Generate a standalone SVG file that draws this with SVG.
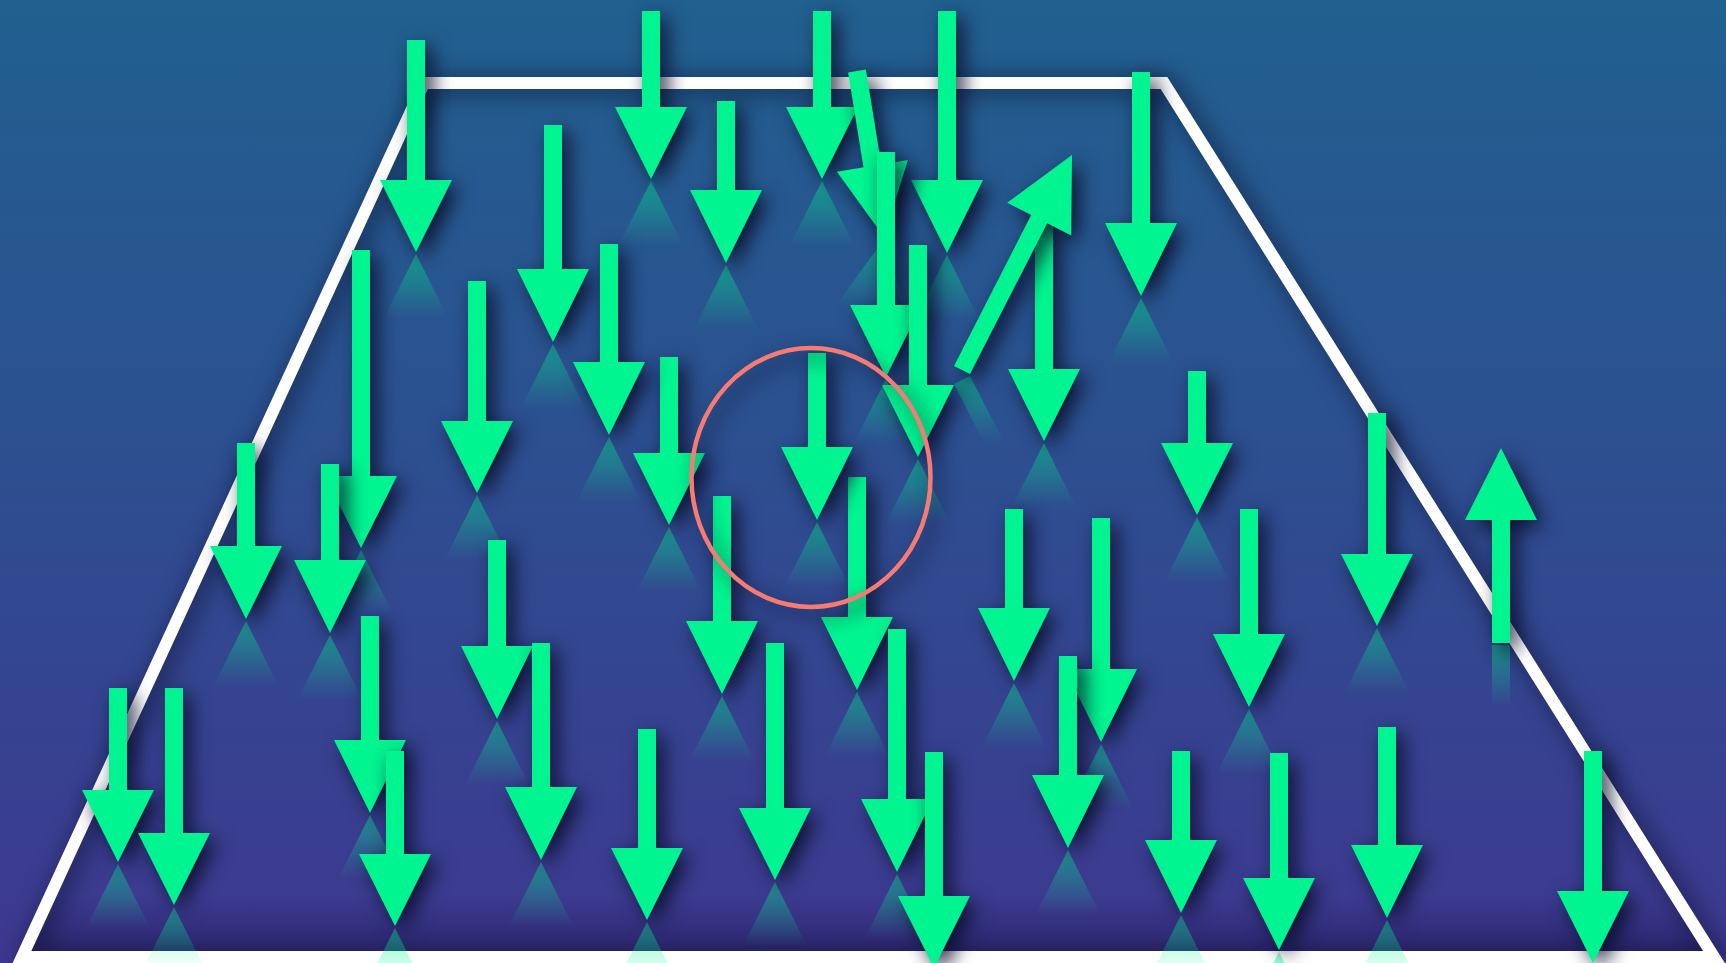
<svg xmlns="http://www.w3.org/2000/svg" width="1726" height="963" viewBox="0 0 1726 963">
<defs>
<linearGradient id="bg" x1="0" y1="0" x2="0" y2="1">
<stop offset="0" stop-color="#21608f"/>
<stop offset="0.45" stop-color="#2c5090"/>
<stop offset="1" stop-color="#3e3890"/>
</linearGradient>
<linearGradient id="refl" x1="0" y1="0" x2="0" y2="1">
<stop offset="0" stop-color="#00f590" stop-opacity="0.45"/>
<stop offset="0.9" stop-color="#00f590" stop-opacity="0"/>
</linearGradient>
<linearGradient id="bot" x1="0" y1="0" x2="0" y2="1">
<stop offset="0" stop-color="#1a144c" stop-opacity="0"/>
<stop offset="1" stop-color="#1a144c" stop-opacity="0.45"/>
</linearGradient>
<filter id="sh" x="-80%" y="-40%" width="260%" height="180%" color-interpolation-filters="sRGB">
<feDropShadow dx="7" dy="7" stdDeviation="10" flood-color="#080c28" flood-opacity="0.9"/>
</filter>
<filter id="shT" filterUnits="userSpaceOnUse" x="-60" y="-60" width="1850" height="1090" color-interpolation-filters="sRGB">
<feDropShadow dx="5" dy="3" stdDeviation="12" flood-color="#080c28" flood-opacity="0.8"/>
</filter>
</defs>
<style>
.a{fill:#00f590;filter:url(#sh)}
.r{fill:url(#refl)}
.frame{fill:none;stroke:#ffffff;stroke-width:12;stroke-linejoin:miter;filter:url(#shT)}
.ring{fill:none;stroke:#f77b73;stroke-width:4.5;filter:url(#sh)}
</style>
<rect x="0" y="0" width="1726" height="963" fill="url(#bg)"/>
<polygon points="49,895 1675,895 1710,951 23,951" fill="url(#bot)"/>
<g id="frame"><path class="frame" d="M22 957L424 83L1164 83L1714 957Z"/></g>
<g id="arrows">
<g id="arrow-2"><path class="r" d="M651 181L687 253H615Z"/><path class="a" d="M642 11H660V107H687L651 179L615 107H642Z"/></g>
<g id="arrow-3"><path class="r" d="M822 181L858 253H786Z"/><path class="a" d="M813 11H831V107H858L822 179L786 107H813Z"/></g>
<g id="arrow-4"><path class="r" d="M947 255L983 327H911Z"/><path class="a" d="M938 11H956V180H983L947 253L911 180H938Z"/></g>
<g id="arrow-1"><path class="r" d="M416 254L452 326H380Z"/><path class="a" d="M407 40H425V180H452L416 252L380 180H407Z"/></g>
<g id="arrow-7"><path class="r" d="M884 239L908 316L837 304Z"/><path class="a" d="M848.1 72.4L865.9 69.6L881.3 164.5L907.9 160.1L884 237L836.9 171.7L863.5 167.3Z"/></g>
<g id="arrow-11"><path class="r" d="M1141 298L1177 370H1105Z"/><path class="a" d="M1132 72H1150V223H1177L1141 296L1105 223H1132Z"/></g>
<g id="arrow-5"><path class="r" d="M726 265L762 337H690Z"/><path class="a" d="M717 101H735V190H762L726 263L690 190H717Z"/></g>
<g id="arrow-6"><path class="r" d="M553 344L589 416H517Z"/><path class="a" d="M544 125H562V269H589L553 342L517 269H544Z"/></g>
<g id="arrow-8"><path class="r" d="M886 379L922 451H850Z"/><path class="a" d="M877 152H895V305H922L886 377L850 305H877Z"/></g>
<g id="arrow-10"><path class="r" d="M1044 443L1080 515H1008Z"/><path class="a" d="M1035 225H1053V369H1080L1044 441L1008 369H1035Z"/></g>
<g id="arrow-9"><path class="r" d="M954 384.1L970 375.9L1004.2 442.7L988.2 450.9Z"/><path class="a" d="M954 365.9L1031.2 215L1007.2 202.7L1072 155L1071.2 235.5L1047.2 223.2L970 374.1Z"/></g>
<g id="arrow-8b"><path class="r" d="M918 459L954 531H882Z"/><path class="a" d="M909 245H927V385H954L918 457L882 385H909Z"/></g>
<g id="arrow-13"><path class="r" d="M361 550L397 622H325Z"/><path class="a" d="M352 250H370V476H397L361 548L325 476H352Z"/></g>
<g id="arrow-14"><path class="r" d="M477 495L513 567H441Z"/><path class="a" d="M468 281H486V421H513L477 493L441 421H468Z"/></g>
<g id="arrow-17"><path class="r" d="M1197 517L1233 589H1161Z"/><path class="a" d="M1188 371H1206V443H1233L1197 515L1161 443H1188Z"/></g>
<g id="arrow-18"><path class="r" d="M1377 628L1413 700H1341Z"/><path class="a" d="M1368 413H1386V554H1413L1377 626L1341 554H1368Z"/></g>
<g id="arrow-20"><path class="r" d="M246 621L282 693H210Z"/><path class="a" d="M237 443H255V546H282L246 619L210 546H237Z"/></g>
<g id="arrow-19"><rect class="r" x="1492" y="645" width="18" height="68"/><path class="a" d="M1492 643V520H1465L1501 448L1537 520H1510V643Z"/></g>
<g id="arrow-21"><path class="r" d="M330 635L366 707H294Z"/><path class="a" d="M321 464H339V560H366L330 633L294 560H321Z"/></g>
<g id="arrow-23"><path class="r" d="M857 692L893 764H821Z"/><path class="a" d="M848 477H866V617H893L857 690L821 617H848Z"/></g>
<g id="arrow-16"><path class="r" d="M817 522L853 594H781Z"/><path class="a" d="M808 353H826V447H853L817 520L781 447H808Z"/></g>
<g id="arrow-22"><path class="r" d="M722 696L758 768H686Z"/><path class="a" d="M713 496H731V621H758L722 694L686 621H713Z"/></g>
<g id="arrow-15"><path class="r" d="M669 527L705 599H633Z"/><path class="a" d="M660 357H678V453H705L669 525L633 453H660Z"/></g>
<g id="arrow-12"><path class="r" d="M609 437L645 509H573Z"/><path class="a" d="M600 244H618V362H645L609 435L573 362H600Z"/></g>
<g id="arrow-25"><path class="r" d="M1014 683L1050 755H978Z"/><path class="a" d="M1005 509H1023V608H1050L1014 681L978 608H1005Z"/></g>
<g id="arrow-27"><path class="r" d="M1249 709L1285 781H1213Z"/><path class="a" d="M1240 509H1258V634H1285L1249 707L1213 634H1240Z"/></g>
<g id="arrow-26"><path class="r" d="M1101 744L1137 816H1065Z"/><path class="a" d="M1092 518H1110V669H1137L1101 742L1065 669H1092Z"/></g>
<g id="arrow-24"><path class="r" d="M497 721L533 793H461Z"/><path class="a" d="M488 540H506V646H533L497 719L461 646H488Z"/></g>
<g id="arrow-28"><path class="r" d="M370 815L406 887H334Z"/><path class="a" d="M361 616H379V740H406L370 813L334 740H361Z"/></g>
<g id="arrow-31"><path class="r" d="M897 874L933 946H861Z"/><path class="a" d="M888 629H906V799H933L897 872L861 799H888Z"/></g>
<g id="arrow-29"><path class="r" d="M541 862L577 934H505Z"/><path class="a" d="M532 643H550V787H577L541 860L505 787H532Z"/></g>
<g id="arrow-30"><path class="r" d="M775 882L811 954H739Z"/><path class="a" d="M766 643H784V808H811L775 880L739 808H766Z"/></g>
<g id="arrow-32"><path class="r" d="M1068 850L1104 922H1032Z"/><path class="a" d="M1059 656H1077V775H1104L1068 848L1032 775H1059Z"/></g>
<g id="arrow-33"><path class="r" d="M118 864L154 936H82Z"/><path class="a" d="M109 688H127V790H154L118 862L82 790H109Z"/></g>
<g id="arrow-34"><path class="r" d="M174 907L210 979H138Z"/><path class="a" d="M165 688H183V833H210L174 905L138 833H165Z"/></g>
<g id="arrow-40"><path class="r" d="M1387 920L1423 992H1351Z"/><path class="a" d="M1378 727H1396V845H1423L1387 918L1351 845H1378Z"/></g>
<g id="arrow-36"><path class="r" d="M647 922L683 994H611Z"/><path class="a" d="M638 729H656V848H683L647 920L611 848H638Z"/></g>
<g id="arrow-35"><path class="r" d="M395 928L431 1000H359Z"/><path class="a" d="M386 751H404V854H431L395 926L359 854H386Z"/></g>
<g id="arrow-37"><path class="a" d="M925 752H943V896H970L934 968L898 896H925Z"/></g>
<g id="arrow-38"><path class="r" d="M1181 915L1217 987H1145Z"/><path class="a" d="M1172 751H1190V840H1217L1181 913L1145 840H1172Z"/></g>
<g id="arrow-41"><path class="a" d="M1584 751H1602V891H1629L1593 963L1557 891H1584Z"/></g>
<g id="arrow-39"><path class="r" d="M1279 952L1315 1024H1243Z"/><path class="a" d="M1270 753H1288V878H1315L1279 950L1243 878H1270Z"/></g>
</g>
<g id="circle"><ellipse class="ring" cx="811" cy="477.5" rx="119.5" ry="129.5"/></g>
</svg>
